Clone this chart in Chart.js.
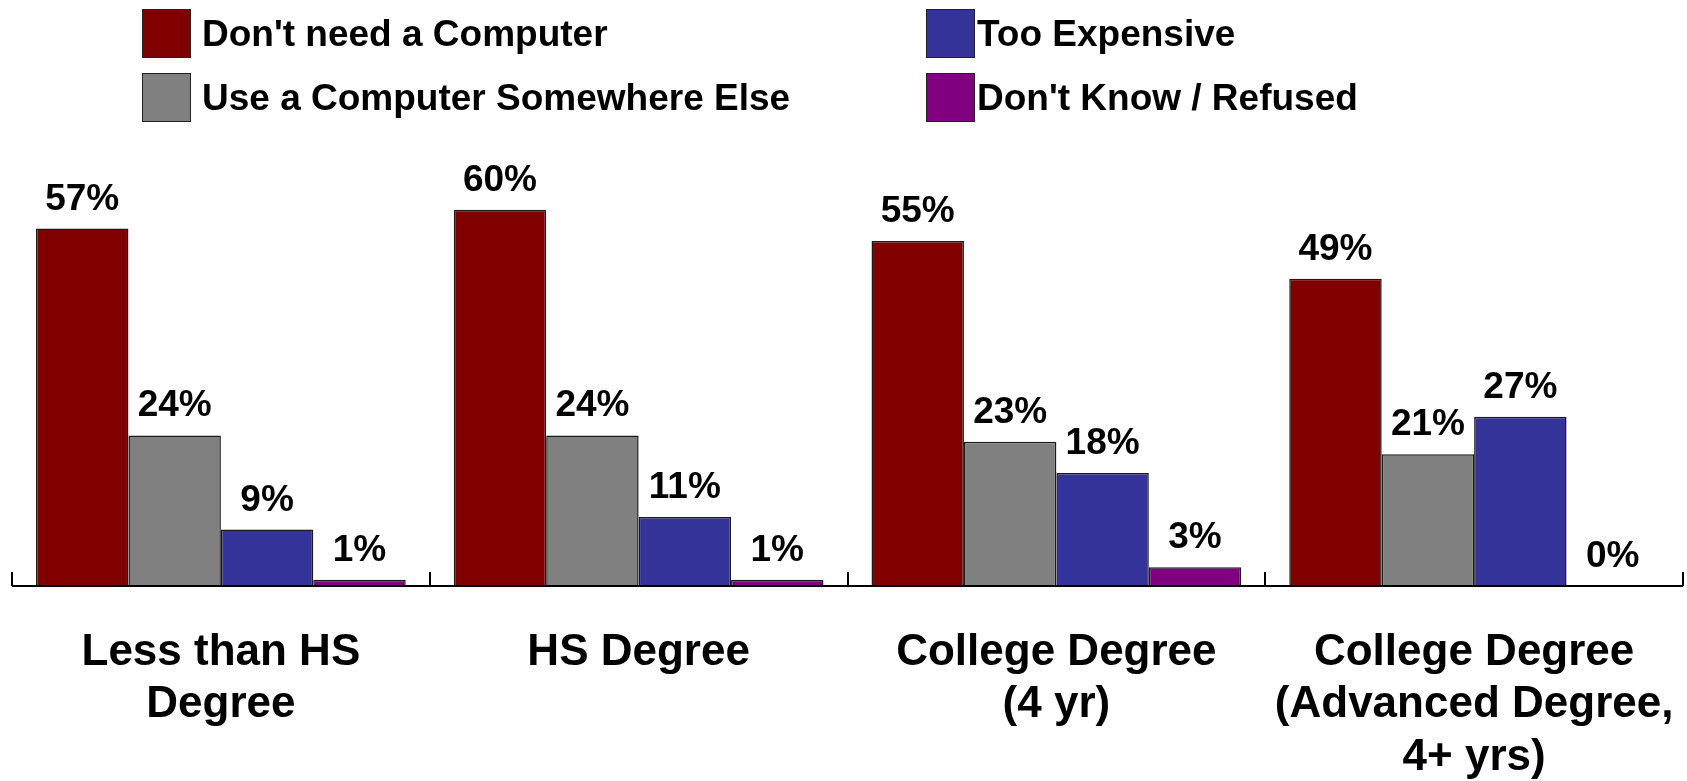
<!DOCTYPE html>
<html>
<head>
<meta charset="utf-8">
<script src="https://cdn.jsdelivr.net/npm/chart.js@4"></script>
<style>
  body { margin: 0; background: #fff; }
  #wrap { position: relative; width: 1687px; height: 781px; }
  .leg { position: absolute; display: flex; align-items: center; height: 49px;
         font: bold 37px "Liberation Sans", Arial, sans-serif; color: #000; white-space: nowrap; }
  .leg span.box { display: inline-block; width: 47px; height: 47px; border: 1px solid #222; }
</style>
</head>
<body>
<div id="wrap">
  <canvas id="barChart"></canvas>
  <div id="legend"></div>
</div>
<script>
// data
var categories = [
    ['Less than HS', 'Degree'],
    ['HS Degree'],
    ['College Degree', '(4 yr)'],
    ['College Degree', '(Advanced Degree,', '4+ yrs)']
];
var seriesNames = ["Don't need a Computer", 'Use a Computer Somewhere Else', 'Too Expensive', "Don't Know / Refused"];
var dontNeed = [57, 60, 55, 49];
var elsewhere = [24, 24, 23, 21];
var tooExpensive = [9, 11, 18, 27];
var dontKnow = [1, 1, 3, 0];
var colors = ['#800000', '#808080', '#333399', '#800080'];

var fontFam = '"Liberation Sans", Arial, sans-serif';
var values = [dontNeed, elsewhere, tooExpensive, dontKnow];

// legend (2 x 2 grid)
var legendPos = [
    { left: 142, top: 9, gap: 11 },
    { left: 142, top: 73, gap: 11 },
    { left: 926, top: 9, gap: 2 },
    { left: 926, top: 73, gap: 2 }
];
var legendEl = document.getElementById('legend');
seriesNames.forEach(function (name, i) {
    var d = document.createElement('div');
    d.className = 'leg';
    d.style.left = legendPos[i].left + 'px';
    d.style.top = legendPos[i].top + 'px';
    d.innerHTML = '<span class="box" style="background:' + colors[i] + ';margin-right:' + legendPos[i].gap + 'px"></span>';
    d.appendChild(document.createTextNode(name));
    legendEl.appendChild(d);
});

// value labels above bars
var valueLabels = {
    id: 'valueLabels',
    afterDatasetsDraw: function (chart) {
        var ctx = chart.ctx;
        ctx.save();
        ctx.font = 'bold 37px ' + fontFam;
        ctx.fillStyle = '#000';
        ctx.textAlign = 'center';
        ctx.textBaseline = 'alphabetic';
        chart.data.datasets.forEach(function (ds, i) {
            chart.getDatasetMeta(i).data.forEach(function (bar, j) {
                ctx.fillText(ds.data[j] + '%', bar.x, bar.y - 19);
            });
        });
        ctx.restore();
    }
};

// baseline with upward tick marks between categories
var baseAxis = {
    id: 'baseAxis',
    afterDraw: function (chart) {
        var ctx = chart.ctx;
        var x = chart.scales.x;
        var y0 = chart.scales.y.getPixelForValue(0);
        var w = (x.right - x.left) / categories.length;
        ctx.save();
        ctx.strokeStyle = '#000';
        ctx.lineWidth = 2;
        ctx.beginPath();
        ctx.moveTo(x.left, y0);
        ctx.lineTo(x.right, y0);
        for (var i = 0; i <= categories.length; i++) {
            var px = Math.round(x.left + i * w);
            ctx.moveTo(px, y0 - 14);
            ctx.lineTo(px, y0);
        }
        ctx.stroke();
        ctx.restore();
    }
};

var ctx = document.getElementById('barChart').getContext('2d');
var myChart = new Chart(ctx, {
    type: 'bar',
    data: {
        labels: categories,
        datasets: seriesNames.map(function (name, i) {
            return {
                label: name,
                data: values[i],
                backgroundColor: colors[i],
                borderColor: '#1a1a1a',
                borderWidth: 1.5,
                categoryPercentage: 0.885,
                barPercentage: 1.0
            };
        })
    },
    options: {
        responsive: true,
        maintainAspectRatio: false,
        animation: false,
        layout: { padding: { top: 147, left: 12, right: 4, bottom: 0 } },
        plugins: {
            legend: { display: false },
            tooltip: { enabled: false }
        },
        scales: {
            x: {
                grid: { display: false, drawTicks: false },
                border: { display: false },
                ticks: {
                    color: '#000',
                    font: { family: fontFam, size: 44, weight: 'bold' },
                    padding: 40,
                    autoSkip: false,
                    maxRotation: 0
                },
                afterFit: function (scale) {
                    // keep the plot area wide and the axis at its place
                    scale.height = 195;
                    scale.paddingLeft = 0;
                    scale.paddingRight = 0;
                }
            },
            y: {
                display: false,
                min: 0,
                max: 70
            }
        }
    },
    plugins: [valueLabels, baseAxis]
});
</script>
</body>
</html>
